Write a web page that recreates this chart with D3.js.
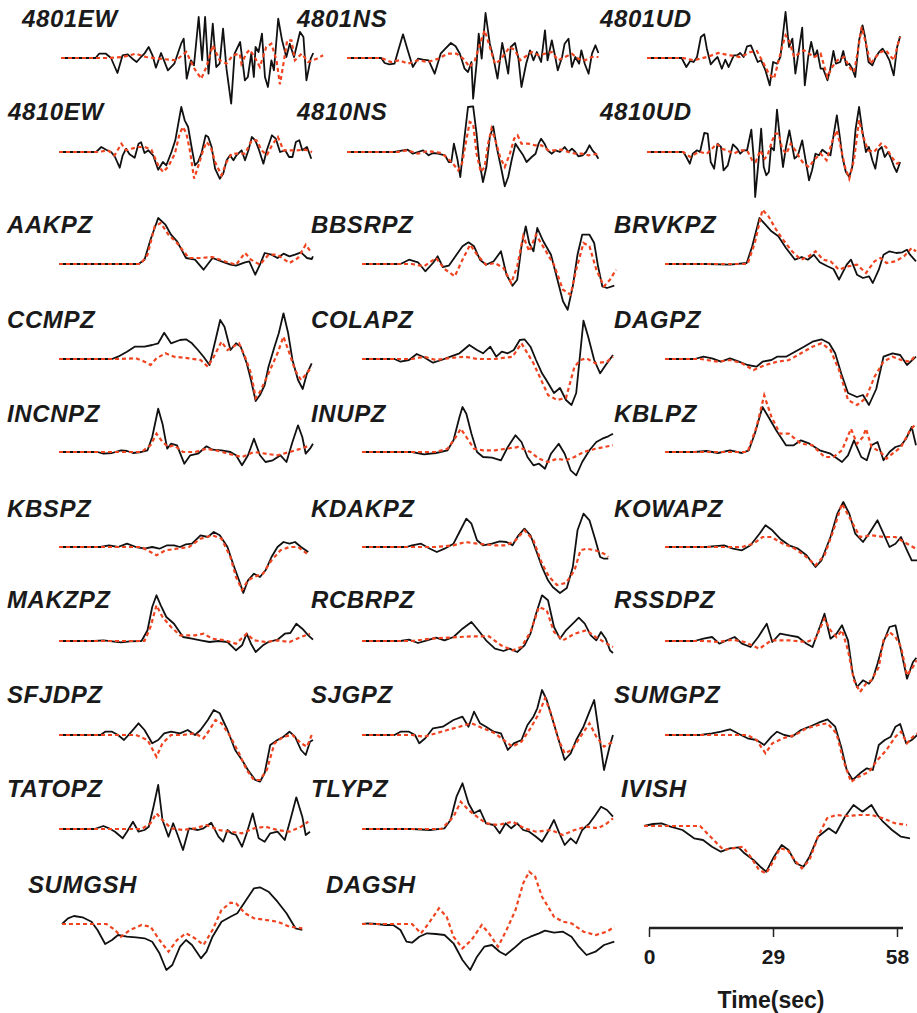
<!DOCTYPE html>
<html>
<head>
<meta charset="utf-8">
<script src="https://cdn.jsdelivr.net/npm/d3@7"></script>
<style>
  body { margin: 0; background: #fff; }
  svg { display: block; }
  .lab { font-family: "Liberation Sans", Arial, sans-serif; font-weight: bold; font-style: italic; font-size: 24px; letter-spacing: 0.6px; fill: #1a1a1a; }
  .axis text { font-family: "Liberation Sans", Arial, sans-serif; font-weight: bold; font-size: 21px; fill: #1a1a1a; }
</style>
</head>
<body>
<div id="chart"></div>
<script>
// waveforms: [time (s), amplitude] pairs, obs = black, syn = red dashed

var obs4801EW = [[0,0],[8.1,0],[8.9,4.3],[10.5,4.3],[11.7,0],[13.2,-15],[14.4,2.7],[15.6,3.7],[16.7,-0.7],[17.7,-4],[18.7,1],[19.5,4.3],[20.5,11],[21.4,2.7],[22.2,-9.7],[23.4,5],[25,-12.3],[26.5,-5.7],[28.1,14.3],[28.7,19.3],[29.4,-20.7],[30.4,-2.3],[31.1,-7.3],[32.2,41],[33,-2.3],[33.7,41],[34.5,-15.7],[35.5,34.3],[36.3,-9],[37.1,-5.7],[37.9,29.3],[38.7,-10.7],[39.8,-45.7],[40.6,4.3],[41.9,16],[43,-22.3],[43.7,-19],[44.5,4.3],[45.1,-19],[45.5,11],[46.2,6],[47,24.3],[47.7,-19],[48.4,-29],[49.2,-2.3],[49.8,-12.3],[50.8,39.3],[51.7,17.7],[52.7,1],[53.5,14.3],[54.5,1],[55.9,26],[56.7,21],[57.4,-22.3],[58.4,-0.7],[59,5]];
var syn4801EW = [[0,0],[11.3,0],[14.4,1],[17.5,4.3],[19.9,1],[23,-0.7],[26.9,-2.3],[29.3,6],[31.2,-10.7],[32.8,-20.7],[34,-9],[35.5,12.7],[37.1,-2.3],[38.7,-5.7],[40.2,2.7],[41.8,4.3],[42.2,-5.7],[43.3,4.3],[44.1,8.3],[45.3,1],[46.5,-9],[48,11],[49.2,14.3],[50.4,-2.3],[51.2,-26.3],[51.9,-9],[52.9,17.7],[53.9,17.7],[54.7,-2.3],[56.3,4.3],[57.8,-4],[59.8,-0.7],[61.3,2.7]];

var obs4801NS = [[0,0],[8,0],[8.8,-5],[9.9,-6.3],[11.1,-5.7],[12,7.7],[13.1,23.7],[14.2,7.7],[15.4,-9],[16.6,-0.7],[17.8,-1.7],[19.1,-2.3],[20.5,-15.7],[21.9,4.3],[23,9.3],[24.3,15],[25.4,11.7],[26.4,4.3],[27.5,-10.7],[28.3,-14],[29.1,-4],[29.5,-40.7],[30.3,-5.7],[30.8,24.3],[31.5,-0.7],[32.4,45],[33.4,14.3],[34.2,1],[35.2,-20.7],[36.3,15],[36.9,2.7],[37.7,-15.7],[38.3,11],[39.3,15],[40.1,-0.7],[40.8,-29],[41.9,-5.7],[42.8,7.7],[43.6,-2.3],[44.4,6],[45.4,-4],[46.3,27.7],[46.9,-2.3],[47.9,17.7],[48.7,1],[49.3,-12.3],[50.3,1],[50.9,14.3],[51.8,19.3],[52.6,-9],[53.4,1],[54.3,-5.7],[54.8,7.7],[55.6,-5.7],[56.5,-15.7],[57.3,4.3],[58.1,12.7],[58.8,5]];
var syn4801NS = [[0,0],[8,0],[10.3,-4],[12.3,-2.3],[14.2,-5.7],[16.6,-2.3],[18.9,-4],[21.3,-0.7],[23.6,4.3],[25.6,4.3],[27.2,-0.7],[28.7,-9],[29.9,-2.3],[31.1,14.3],[32.2,27.7],[33.4,11],[34.6,-5.7],[35.8,-2.3],[36.9,4.3],[38.1,11],[39.3,7.7],[40.5,-2.3],[41.6,1],[43.2,6],[44.8,2.7],[46.3,4.3],[47.9,6],[49.4,-2.3],[51,1],[52.6,4.3],[54.1,-0.7],[55.7,-2.3],[57.3,1],[58.8,1]];

var obs4801UD = [[0,0],[8.1,0],[9.2,-9],[10.1,-3],[10.9,-4],[11.7,1],[12.6,21],[13.4,23.7],[14,9.3],[14.9,-6.3],[15.7,-2.3],[16.5,1],[17.5,-10.7],[18.3,-1.7],[19.1,-9],[20.3,2.7],[21.1,2.7],[21.8,5],[22.6,1],[23.4,11.7],[24.3,12.7],[25.1,4.3],[25.9,-4],[26.7,-2.3],[27.7,-12.3],[28.7,-27.3],[29.5,-4],[30.4,-5.7],[31.2,1],[32.4,46],[33.2,11],[34,19.3],[34.7,-15.7],[35.4,4.3],[36.3,30.3],[36.9,-27.3],[37.7,1],[38.4,16],[39.2,1],[39.8,7.7],[40.6,-10.7],[41.2,-10.7],[42.2,-22.3],[42.8,-12.3],[43.6,7],[44.2,-5.7],[45.2,-4],[45.9,7],[46.6,-7.3],[47.3,-5.7],[48,-10.7],[48.7,-19],[49.6,17.7],[50.4,32.7],[51,21],[51.8,-4],[52.7,-7.3],[53.5,1],[54.3,6],[55.1,9.3],[55.9,4.3],[56.7,-2.3],[57.7,-17.3],[58.5,11],[59.2,21.7]];
var syn4801UD = [[0,0],[8.5,0],[10.9,-2.3],[14,1],[16.7,5],[19.5,2.7],[21.8,1],[24.2,6],[25.7,7],[26.9,-2.3],[28.5,-15.7],[29.7,-20.7],[30.8,-2.3],[31.6,11],[32.4,22.7],[33.2,17.7],[34.4,1],[35.5,4.3],[36.7,7.7],[37.9,4.3],[39.1,1],[40.6,4.3],[42.2,-19],[43.3,-9],[44.5,-2.3],[46.1,1],[47.6,-10.7],[48.4,-14],[49.2,4.3],[50.2,31],[51.2,14.3],[52.3,-5.7],[53.5,1],[54.7,6],[55.9,7.7],[57.1,1],[57.8,-2.3],[58.6,12.7],[59.2,21]];

var obs4810EW = [[0,0],[8.7,0],[9.9,5],[11,2.3],[12.2,0],[13.1,-5],[14.2,-15.7],[14.9,-3.3],[15.7,3.3],[16.5,-2.3],[17.7,-5.7],[18.6,8.3],[19.2,9.7],[20,-1],[20.9,1.7],[22,-3.3],[23.2,-17.7],[24.3,-10],[25.1,-13.3],[26.3,0],[27.2,11.7],[27.9,28.3],[28.6,45],[29.4,31.7],[30.2,25],[31,5],[31.8,-13.3],[32.5,-10],[33.3,-1.7],[34.3,16.7],[34.9,15],[35.7,5],[36.5,-16.7],[37.6,-26.7],[38.4,-21.7],[39.2,-8.3],[40,-3.3],[40.8,-8.3],[41.5,-3.3],[42.7,1.7],[43.5,-8.3],[44.3,1.7],[45.1,15],[45.9,11.7],[46.8,1.7],[47.8,-11.7],[48.6,1.7],[49.8,16.7],[50.7,13.3],[51.7,0],[52.9,1.7],[53.8,-5],[54.6,-5],[55.4,10],[56.2,11.7],[56.9,1.7],[58,5],[59,-6.7]];
var syn4810EW = [[0,0],[9.1,0],[11.4,1.7],[13,-3.3],[14.6,8.3],[15.7,1.7],[16.9,3.3],[18.5,5],[20,5],[21.6,2.3],[23.2,-13.3],[24.3,-20],[25.5,-15],[27.1,-1.7],[28.2,18.3],[29,25],[29.8,18.3],[30.6,1.7],[31.6,-26.7],[32.5,-15],[33.7,1.7],[34.5,10],[35.5,5],[36.5,-10],[38,-23.3],[39.2,-10],[40.4,-1.7],[41.9,-1.7],[43.5,-1.7],[45.1,11.7],[46.2,11.7],[47.4,1.7],[48.6,-3.3],[49.8,6.7],[51.2,15],[52.5,1.7],[54.1,1.7],[55.6,1.7],[57.6,2.3],[59.2,0]];

var obs4810NS = [[0,0],[9.5,0],[11.1,0],[13.1,1.7],[14.2,2.3],[15.4,-1.7],[16.6,0],[17.8,1.7],[19.1,-3.3],[20.1,-1],[21.3,-1.7],[22.9,-3.3],[23.8,-10],[24.4,-10],[25,8.3],[25.8,-6.7],[26.5,-25],[27.4,11.7],[28.3,45],[29.5,45.7],[30.3,18.3],[30.9,-8.3],[31.8,-30],[32.6,-15],[33.4,15],[34.2,25.7],[35,5],[36,-15],[36.9,-34.3],[37.7,-25],[38.5,-8.3],[39.4,8.3],[40.4,1.7],[41.2,-3.3],[42,-10],[43.2,-5],[44.1,-1.7],[44.8,8.3],[45.4,13.3],[46.2,8.3],[46.9,1.7],[47.9,-1.7],[48.8,1.7],[49.8,0],[50.9,5],[51.8,0],[52.6,3.3],[53.4,0],[54.1,-4.3],[55.1,-3.3],[55.9,0],[56.7,6.7],[57.4,1.7],[58.1,-1.7],[58.8,-6.7]];
var syn4810NS = [[0,0],[9.5,0],[11.9,0],[14.2,1.7],[16.6,-1.7],[18.9,1],[22.1,-1],[23.6,-6.7],[24.8,-11.7],[26,-18.3],[26.9,-11.7],[27.9,11.7],[28.7,30],[29.5,28.3],[30.3,-1.7],[31.3,-20],[32.2,-15],[33,8.3],[33.8,23.3],[34.7,11.7],[35.8,-5],[36.9,-15],[38.1,-1.7],[39.1,13.3],[39.9,16.7],[40.8,8.3],[42.4,8.3],[44,6.7],[45.5,6.7],[47.1,1.7],[48.7,1.7],[50.2,2.3],[51.8,0],[53.4,-1.7],[54.9,-1.7],[56.5,-3.3],[58.8,-1.7]];

var obs4810UD = [[0,0],[8.5,0],[9.2,-5],[10,-11.7],[10.7,-1.7],[11.7,1.7],[12.4,0],[13.4,19],[14.2,18.3],[14.9,-10],[15.7,-16.7],[16.5,8.3],[17.3,5],[17.9,-18.3],[18.9,-13.3],[20.1,7.7],[21.1,3.3],[21.8,-1.7],[22.6,1.7],[23.4,1.7],[24.4,22.3],[25,-8.3],[25.3,-45],[26.1,-8.3],[26.7,23.3],[27.3,-15],[27.9,-23.3],[28.5,-20],[29,5],[29.7,1.7],[30.4,42.3],[31.2,8.3],[31.8,-15],[32.5,5],[33.3,21.7],[34,5],[34.5,-6.7],[35.3,-3.3],[36.3,11.7],[37.1,-8.3],[37.9,-28.3],[38.6,-18.3],[39.4,-1.7],[40.2,-3.3],[41,2.3],[42.2,-1.7],[42.9,-3.3],[43.7,18.3],[44.4,36.7],[45.1,15],[45.7,-5],[46.5,-20],[47.3,-25],[48,-15],[48.8,23.3],[49.6,45],[50.4,20],[51.2,0],[51.9,5],[52.7,-8.3],[53.4,-16.7],[54.1,1.7],[54.9,5],[55.6,-5],[56.4,0],[57.1,-6.7],[57.8,-15],[58.4,-20],[59.2,-10]];
var syn4810UD = [[0,0],[8.5,0],[10.1,-5],[11.3,-1.7],[12.4,0],[14,-1.7],[15.2,3.3],[16.3,8.3],[17.5,3.3],[18.7,1.7],[20.3,-1.7],[21.8,1.7],[23.4,1.7],[24.6,-8.3],[25.4,-10],[26.5,1.7],[27.5,-6.7],[28.2,-3.3],[29.3,11.7],[30.1,18.3],[30.8,18.3],[31.6,3.3],[32.6,-1.7],[33.6,8.3],[34.7,1.7],[35.8,-6.7],[36.7,-11.7],[37.9,-15],[39,-8.3],[40.6,-1.7],[42,-8.3],[43.4,11.7],[44.4,21.7],[45.3,5],[46.3,-15],[47.3,-26.7],[48.4,-8.3],[49.6,31.7],[50.6,15],[51.7,1.7],[53.1,0],[54.7,8.3],[55.9,5],[57.2,-5],[58.5,-11.7],[59.2,-10]];

var obsAAKPZ = [[0,0],[18.6,0],[20,4.3],[21.4,24.3],[23.2,46],[24.9,39.3],[26.2,29.3],[27.6,22.7],[29.7,6],[31.8,4.3],[33.8,-5.7],[35.9,6],[38,2.7],[40.1,-0.7],[41.4,-1.7],[43.5,1.7],[44.5,2.7],[45.9,-10.7],[47,-0.7],[48.1,11],[49.7,9.3],[51.1,6],[52.5,10.3],[53.9,7.7],[55.2,9.3],[56.6,11.7],[58,6],[59.1,5],[59.4,7.7]];
var synAAKPZ = [[0,0],[19.1,0],[20.7,9.3],[22.4,37.7],[23.8,41],[25.6,29.3],[27.6,21],[30.4,6],[33.1,6],[35.9,7],[38.7,2.7],[41.4,-0.7],[43.5,11],[44.9,4.3],[47,-0.7],[49,9.3],[51.1,9.3],[53.9,1],[55.9,6],[57.7,19.3],[59.1,11]];

var obsBBSRPZ = [[0,0],[9,0],[11,4.3],[13.1,1.7],[14.8,-7.3],[16.6,1],[17.7,7.7],[18.9,-3],[20.3,-1.7],[22.1,9.3],[23.5,17.7],[24.9,21.7],[26.2,17.7],[27.6,4.3],[29,-0.7],[30.8,2.7],[32.5,12.7],[33.8,-10.7],[35.2,-21.7],[36.3,-15.7],[37.3,17.7],[38.3,37.7],[39.1,21],[40.1,12.7],[41,36],[42.4,22.7],[44.2,9.3],[45.6,-14],[47,-37.3],[48.1,-45.7],[49.3,-22.3],[50.4,9.3],[51.5,29.3],[53.2,29.3],[54.3,21],[55.2,-2.3],[56.2,-22.3],[57.3,-24],[59,-21.7]];
var synBBSRPZ = [[0,0],[11.7,0],[14.5,-2.3],[17.3,6],[19.3,-5],[21.7,-12.3],[23.5,4.3],[25.3,19.3],[26.9,9.3],[29,-0.7],[31.1,1],[33.1,-4],[34.9,-19],[36.3,-2.3],[37.7,27.7],[39.1,12.7],[40.7,29.3],[42.8,14.3],[44.9,-0.7],[47,-25.7],[48.8,-30.7],[50.1,-5.7],[51.8,21],[53.2,17.7],[54.8,-5.7],[56.6,-22.3],[58,-15.7],[59.4,-5.7]];

var obsBRVKPZ = [[0,0],[9.7,0],[15.2,-0.7],[19.1,1],[20.4,17.7],[22.1,46],[23.5,39.3],[24.9,32.7],[26.5,27.7],[28.3,16],[30.4,4.3],[32,7],[33.4,4.3],[34.8,9.3],[36.2,1.7],[38,-2.3],[39.4,-5],[40.7,-15.7],[42.5,-0.7],[43.5,4.3],[44.9,-10.7],[46.3,-14],[47.7,-12.3],[48.6,-19],[50,-5.7],[51.1,9.3],[52.5,12.7],[54.1,11],[55.5,11.7],[56.6,14.3],[57.3,9.3],[58.7,2.7]];
var synBRVKPZ = [[0,0],[19.3,0],[21,21],[22.8,54.3],[24.2,47.7],[26,34.3],[27.6,24.3],[29.7,12.7],[31.8,4.3],[33.8,8.3],[35.2,12.7],[37,4.3],[38.7,2.7],[40.7,-5.7],[42.8,-2.3],[44.9,-0.7],[47,-9],[49,2.7],[50.4,6],[51.8,1],[53.9,2.7],[55.9,7.7],[57.7,16],[58.7,12.7]];

var obsCCMPZ = [[0,0],[12.4,0],[13.8,2.3],[15.9,7.3],[17.7,12.3],[20,12.3],[21.8,14],[23.2,15.7],[24.6,26.3],[26.2,15.7],[28.3,19],[29.7,19.7],[31.1,15.7],[32.5,9],[33.8,2.3],[35.2,-6],[36.6,19],[37.7,39],[38.7,32.3],[40.1,9],[41.4,15.7],[42.5,12.3],[43.9,-4.3],[44.9,-21],[46,-42],[47,-36],[48.1,-26],[49,-7.7],[50.4,12.3],[51.4,25.7],[52.5,45.7],[53.6,25.7],[54.6,-1],[55.9,-21],[57,-30],[58,-14.3],[59.1,-4.3]];
var synCCMPZ = [[0,0],[13.8,0],[18,0.7],[20,-2.7],[21.4,-6],[22.8,0.7],[24.9,5.7],[26.9,2.3],[30.4,0.7],[33.1,-1],[34.8,-7.7],[36.2,2.3],[38,17.3],[39.4,9],[40.7,12.3],[42.1,15.7],[43.5,2.3],[44.9,-14.3],[46,-39],[47,-33],[48.3,-21],[49.7,-7.7],[51.1,5.7],[52.5,22.3],[53.9,5.7],[55.2,-11],[56.6,-21],[58,-14.3],[59.1,-7.7]];

var obsCOLAPZ = [[0,0],[7.6,0],[9,-2.7],[11,-1],[12.8,5],[14.5,1.7],[16.6,-3.7],[18.6,-1],[20.7,2.3],[22.8,5.7],[25.1,14],[26.9,9],[28.3,5.7],[30,12.3],[31.4,2.3],[32.7,7.3],[34.1,5.7],[35.5,9],[36.9,19],[38,19.7],[39.4,12.3],[40.7,-1],[42.1,-14.3],[43.1,-21],[44.9,-34],[46.3,-29],[47.7,-41],[49,-46],[50.1,-34],[51.8,38.3],[52.9,22.3],[54.3,-1],[55.7,-14.3],[57,-6],[58.7,4]];
var synCOLAPZ = [[0,0],[11.7,0],[14.5,2.3],[17.3,-1],[20,0.7],[24.2,2.3],[26.9,0],[31.1,0],[35.2,2.3],[37.3,15.7],[38.7,5.7],[40.1,-4.3],[41.9,-21],[43.5,-36],[45.6,-41],[47.7,-39],[49.7,-7.7],[51.1,-1],[52.5,0.7],[54.6,-4.3],[57.3,-2.7],[58.7,2.3]];

var obsDAGPZ = [[0,0],[6.9,0],[9,2.3],[11,0.7],[13.1,-2.7],[15.2,0.7],[17.3,-2.7],[19.3,-6],[21.4,-7.7],[22.8,-2.7],[24.9,-1],[26.2,2.3],[28.3,2.3],[30.4,7.3],[32.5,12.3],[34.5,17.3],[36.6,19.7],[38.4,15.7],[39.8,5.7],[41.2,-14.3],[42.8,-34],[44.9,-38],[46.3,-36],[47.7,-46],[49.4,-30],[51.1,2.3],[53.2,5.7],[55,4],[56.6,-6],[58.7,2.3]];
var synDAGPZ = [[0,0],[8.3,0],[12.4,-2.7],[15.2,-1],[18,-4.3],[20.7,-11],[23.5,-6],[26.2,-2.7],[29,-1],[31.8,5.7],[34.5,12.3],[36.6,15.7],[38.7,9],[40.7,-11],[42.8,-41],[44.9,-46],[47,-39],[49,-17.7],[51.1,-2.7],[53.2,2.3],[55.2,-1],[57.3,-2.7],[58.7,4]];

var obsINCNPZ = [[0,0],[9,0],[10.4,-1.7],[12.4,-1],[14.5,1.7],[15.9,1],[17.3,-1],[19.3,0],[20.7,1.7],[21.8,15],[23.2,43.3],[24.2,28.3],[25.3,3.3],[26.2,8.3],[27.6,6.7],[29.3,-11.7],[30.7,-3.3],[32.5,-1.7],[34.5,5.7],[35.9,2.3],[38,1.7],[40.1,0],[41.4,-3.3],[42.8,-13.3],[44.2,-3.3],[45.6,13.3],[47,-3.3],[48.3,-10],[50,-8.3],[51.8,-3.3],[53.2,-10],[54.6,10],[55.9,26.7],[56.9,15],[57.7,-1.7],[58.7,3.3],[59.4,8.3]];
var synINCNPZ = [[0,0],[19.3,0],[21.4,6.7],[22.8,18.3],[24.2,10],[25.6,5],[26.9,6.7],[29,0],[31.8,0],[34.5,3.3],[37.3,1],[40.1,-2.3],[42.8,-5],[45.6,0],[48.3,-1.7],[51.1,-3.3],[53.9,0],[56.6,3.3],[58.7,6.7]];

var obsINUPZ = [[0,0],[11.7,0],[14.5,-2.3],[17.3,-1],[20,1.7],[21.4,11.7],[22.8,35],[23.5,45],[24.4,38.3],[25.6,18.3],[26.9,0],[28.3,-5],[30.4,-5.7],[32.5,-8.3],[34.1,5],[35.9,16.7],[37.3,10],[38.7,-5],[40.1,-13.3],[41.4,-11.7],[42.8,-16.7],[44.2,-1.7],[46,8.3],[47.4,-1.7],[48.8,-18.3],[50.1,-23.3],[51.5,-10],[53.2,1.7],[54.8,10],[56.2,13.3],[57.6,15.7],[58.7,18.3]];
var synINUPZ = [[0,0],[17.3,0],[20,3.3],[21.7,13.3],[23.1,23.3],[24.4,15],[26.2,3.3],[28.3,1.7],[31.1,1.7],[33.8,3.3],[36.6,5],[39.4,0],[41.4,-6.7],[43.5,-10],[45.6,-6.7],[47.7,-8.3],[49.7,-5],[51.8,0],[54.6,3.3],[58.7,6.7]];

var obsKBLPZ = [[0,0],[6.9,0],[9.7,1],[12.4,-1],[15.2,1.7],[18,-1],[19.6,1.7],[21,18.3],[22.8,45],[24.2,35],[26,21.7],[28.3,6.7],[30.1,6.7],[31.8,11.7],[33.8,8.3],[36.2,1.7],[38.7,-1.7],[41.4,-10],[42.8,-3.3],[44.2,11.7],[45.9,-5],[47.2,-8.3],[48.3,6.7],[49.7,10],[51.1,-8.3],[52.5,0],[53.9,5],[55.2,6.7],[56.4,13.3],[57.7,25],[58.7,6.7]];
var synKBLPZ = [[0,0],[19.3,0],[21.4,25],[23.2,56.7],[24.9,35],[26.9,18.3],[29,18.3],[31.8,8.3],[34.5,6.7],[37.3,-5],[39.4,-5],[41.4,1.7],[43.5,23.3],[44.9,8.3],[46.3,15],[47,23.3],[48.3,5],[50.4,0],[51.8,-6.7],[53.2,-1.7],[55.2,5],[57.3,21.7],[58.7,28.3]];

var obsKBSPZ = [[0,0],[9.7,0],[11.7,1.7],[13.8,0],[15.9,3.3],[18,0],[20,-1.7],[21.8,0],[23.5,-1.7],[25.3,1.7],[26.9,1.7],[28.3,0],[29.7,2.7],[31.1,3.3],[33.1,11.7],[34.8,10],[36.2,15],[37.6,11.7],[39.4,0],[40.7,-16.7],[42.1,-33.3],[43.1,-46],[44.2,-33.3],[45.6,-26.7],[47,-30],[48.3,-23.3],[49.7,-10],[51.1,0],[52.5,5],[53.9,3.3],[55.2,5],[56.6,0],[58.3,-5]];
var synKBSPZ = [[0,0],[19.3,0],[21.4,-5],[22.8,-8.3],[24.9,-3.3],[27.6,-1.7],[30.4,0],[33.1,8.3],[35.9,11.7],[38,8.3],[40.1,-10],[41.4,-30],[42.8,-43],[44.2,-33.3],[45.6,-30],[47.7,-26.7],[49.7,-13.3],[51.8,-3.3],[53.9,0],[55.9,0],[58,-6.7]];

var obsKDAKPZ = [[0,0],[10.4,0],[11.7,1.7],[13.8,3.3],[15.9,-1.7],[17.5,-5],[19.3,-1.7],[21.4,3.3],[22.8,15],[24.4,28.3],[25.6,23.3],[26.9,6.7],[28.3,1.7],[30.4,3.3],[32.2,5.7],[33.8,5],[35.2,1.7],[36.6,11.7],[38,18.3],[39.4,11.7],[40.7,-3.3],[42.1,-20],[43.5,-33.3],[44.6,-40],[46.3,-46],[47.9,-41],[49.3,-20],[50.4,16.7],[51.8,33.3],[53.2,26.7],[54.6,6.7],[55.7,-10],[56.6,-11.7],[57.6,-11.7]];
var synKDAKPZ = [[0,0],[17.3,0],[21.4,1.7],[24.2,5],[26.9,3.3],[31.1,1.7],[33.8,1.7],[35.9,6.7],[38,16.7],[40.1,6.7],[42.1,-16.7],[43.8,-30],[45.6,-38],[47.7,-36],[49.7,-23.3],[51.1,-3.3],[52.5,-1.7],[54.6,-3.3],[56.6,-6.7],[57.6,-10]];

var obsKOWAPZ = [[0,0],[9.7,0],[13.8,1.7],[15.9,-1.7],[18,-3.3],[20,1.7],[22.1,13.3],[23.5,21.7],[25.1,16.7],[26.9,8.3],[29,1.7],[31.1,-1.7],[33.1,-8.3],[35.2,-20],[36.6,-13.3],[38.7,10],[40.3,33.3],[41.7,45],[43.1,33.3],[44.5,13.3],[46.3,5],[47.7,13.3],[49.7,26.7],[51.1,13.3],[52.5,0],[53.9,3.3],[55.2,10],[56.6,-3.3],[57.7,-13.3],[59,-13.3]];
var synKOWAPZ = [[0,0],[18,0],[20.7,3.3],[22.8,10],[24.9,10],[27.6,3.3],[30.4,-1.7],[33.1,-10],[35.2,-18.3],[37.3,-8.3],[39.4,16.7],[41.4,43.3],[43.5,26.7],[45.6,10],[48.3,11.7],[51.1,10],[53.9,10],[56.6,3.3],[58.7,-1.7]];

var obsMAKZPZ = [[0,0],[8.3,0],[10.4,0.7],[12.4,-0.3],[14.5,-1.3],[16.6,-0.3],[19.3,0],[20.7,10.7],[21.8,34],[22.8,45.7],[23.8,35.7],[25.1,24],[26.9,17.3],[29,4],[31.1,2.3],[33.1,0.7],[35.2,-1],[37.3,0],[39.4,-1],[41.4,-9.3],[42.8,-4.3],[43.9,7.3],[44.9,-2.7],[46,-11],[47.7,-4.3],[49,-1],[51.1,1.3],[52.8,7.3],[54.1,8],[55.5,17.3],[56.9,12.3],[58.3,5.7],[59.4,1.3]];
var synMAKZPZ = [[0,0],[20,0],[21.4,14],[22.8,35.7],[24.2,24],[26.2,14],[28.3,5.7],[31.8,5.7],[33.8,7.3],[35.9,2.3],[38.7,0.7],[41.4,-2.7],[43.9,7.3],[45.6,0.7],[48.3,-1],[51.1,0.7],[53.9,-1],[56.6,4],[58.7,7.3]];

var obsRCBRPZ = [[0,0],[9,0],[11,1.3],[13.1,-2],[15.2,0.7],[17.3,3.3],[19.3,0.7],[21.4,4],[23.5,12.3],[25.6,19],[27.2,10.7],[29,0.7],[31.1,-7.7],[33.1,-10],[34.5,-7.7],[36.3,-11],[38,-4.3],[39.4,7.3],[40.7,27.3],[42.1,45.7],[43.5,40.7],[44.9,14],[46.3,2.3],[47.7,10.7],[49.3,17.3],[50.7,23.3],[52.1,17.3],[53.5,5.7],[54.8,0.7],[55.9,9],[57,2.3],[58,-9.3],[58.7,-12]];
var synRCBRPZ = [[0,0],[11.7,0],[15.9,2.3],[20,3.3],[25.6,4.7],[29.7,4.7],[32.5,-4.3],[35.2,-9.3],[37.3,-6],[39.4,9],[41.4,34],[43.2,30.7],[44.9,9],[47,0.7],[49.7,7.3],[52.5,10.7],[54.6,4],[57.3,-2.7],[58.7,-6]];

var obsRSSDPZ = [[0,0],[6.9,0],[9,2.3],[11,4],[12.7,-2.7],[14.5,0.7],[16.3,4],[18,-2.7],[20,-6],[21.8,4],[23.8,17.3],[25.1,-1],[26.9,7.3],[29,5.7],[31.1,4],[33.1,-2.7],[34.5,-6],[36.2,14],[37.3,27.3],[38.7,2.3],[40.1,7.3],[41.4,15.7],[42.8,0.7],[43.9,-32.7],[44.9,-46],[46.3,-39.3],[47.7,-42.7],[48.6,-37.7],[49.7,-22.7],[51.1,-1],[52.5,14],[53.9,15.7],[55.2,-9.3],[56.6,-37.7],[58,-21],[58.8,-16.7]];
var synRSSDPZ = [[0,0],[9.7,0],[12.4,-1],[15.9,1.3],[18.6,-1],[22.1,-7.7],[24.9,0.7],[29,0.7],[33.1,-1],[35.2,2.3],[37.3,22.3],[38.7,10.7],[40.1,4],[41.4,10.7],[42.8,-9.3],[44.2,-39.3],[45.6,-51],[47,-42.7],[48.3,-39.3],[50,-26],[51.1,0.7],[52.5,9],[53.9,4],[55.2,-6],[56.6,-34.3],[58,-26],[58.8,-19.3]];

var obsSFJDPZ = [[0,0],[9.7,0],[10.8,3.3],[12.4,3.3],[13.8,0],[15.2,-5],[16.6,1.7],[18.6,11.7],[20,5],[21.8,-8.3],[23.2,-5],[24.6,1.7],[26.2,3.3],[28.3,1.7],[30.1,5],[31.8,0],[33.1,5],[34.8,15],[36.2,25],[37.6,21.7],[39.4,5],[41.2,-15],[42.8,-25],[44.2,-35],[45.9,-45],[47,-46.7],[48.1,-38],[49.4,-10],[51.1,-5],[52.5,-1.7],[53.9,3.3],[55.2,-1.7],[56.6,-15],[57.7,-20],[58.7,-6.7],[59.4,-5]];
var synSFJDPZ = [[0,0],[18,0],[20.7,-5],[22.8,-21.7],[24.2,-8.3],[26.2,0],[29,0],[31.8,1.7],[33.8,-3.3],[35.2,5],[36.6,15],[38,11.7],[40.1,-1.7],[42.1,-18.3],[43.9,-35],[45.6,-45],[47,-45],[48.6,-35],[50.4,-8.3],[52.5,-1.7],[54.6,0],[56.6,-8.3],[58,-11.7],[59.1,0]];

var obsSJGPZ = [[0,0],[7.6,0],[9,3.3],[11,3.3],[12.4,0],[13.4,-8.3],[14.8,-3.3],[16.6,6.7],[18.9,8.3],[21.4,15],[23.5,18.3],[24.9,8.3],[26.2,23.3],[27.6,11.7],[29,8.3],[30.8,3.3],[32.5,1.7],[34.1,-15],[35.5,-8.3],[37.3,-5],[38.7,10],[40.1,18.3],[41,26.7],[42.1,45],[43.2,35],[44.6,15],[46,-5],[47.4,-25],[48.8,-18.3],[50.1,-5],[51.8,8.3],[53.2,23.3],[54.3,35],[55.2,8.3],[56.6,-35],[58,-10],[58.7,0]];
var synSJGPZ = [[0,0],[11.7,0],[14.5,-1.7],[17.3,1.7],[20,5],[22.8,8.3],[25.6,11.7],[28.3,6.7],[31.1,1.7],[33.1,-5],[35.2,-11.7],[37.3,-6.7],[39.4,6.7],[41.4,21.7],[42.8,36.7],[44.2,21.7],[46,-5],[47.4,-18.3],[49,-15],[51.1,-1.7],[53.2,11.7],[54.8,-1.7],[56.6,-11.7],[58.7,-6.7]];

var obsSUMGPZ = [[0,0],[8.3,0],[11,1.7],[13.1,3.3],[15.2,5.7],[17.3,1],[19.3,-3.3],[21.4,-5],[23.2,-10],[24.9,-1.7],[26.2,3.3],[27.9,0],[29.7,-1.7],[31.8,5],[33.8,8.3],[35.9,12.3],[38,15.7],[39.8,8.3],[41.2,-11.7],[42.5,-35],[43.9,-45],[45.6,-38.3],[47.2,-33.3],[48.6,-35],[50,-10],[51.4,-5],[52.8,-1.7],[53.9,8.3],[55,11],[56.4,-8.3],[57.7,-5],[59,0]];
var synSUMGPZ = [[0,0],[19.3,0],[21.4,-5],[23.5,-18.3],[25.1,-8.3],[27.6,-3.3],[30.4,0],[33.1,6.7],[35.9,10],[38,11.7],[40.1,1.7],[41.7,-25],[43.5,-47],[45.3,-41.7],[47.7,-36.7],[49.7,-25],[51.8,-15],[53.9,-1.7],[55.2,3.3],[56.6,-8.3],[58,-1.7],[59,1.7]];

var obsTATOPZ = [[0,0],[8.3,0],[10.4,3],[11.7,0.7],[13.1,-2.7],[14.9,-9.3],[15.9,-2.7],[17.3,7.3],[18.6,-2.7],[20,-1],[21,2.3],[22.1,22.3],[23.2,44],[24.2,9],[25.6,-7.7],[26.7,5.7],[27.6,-4.3],[29,-21],[30.4,0.7],[32.5,-1],[33.8,0.7],[35.6,6.3],[37.3,-7.7],[38.4,-12.7],[39.4,-1],[40.3,-4.3],[41.4,-6],[42.8,-17.7],[43.9,-4.3],[45.3,15.7],[46.7,-9.3],[48.1,-12.7],[49.4,-4.3],[51.1,-2.7],[52.8,-11],[54.1,9],[55.5,31.7],[56.9,12.3],[57.7,-6],[58.7,-2.7]];
var synTATOPZ = [[0,0],[19.3,0],[21.4,5.7],[22.8,15.7],[24.2,9],[26.2,0.7],[29,-1],[31.8,0.7],[34.5,4],[37.3,-1],[40.1,-2.7],[42.8,-4.3],[45.6,0.7],[48.3,2.3],[51.1,-1],[53.9,-2.7],[56.6,2.3],[58.3,7.3]];

var obsTLYPZ = [[0,0],[11.7,0],[15.9,-1],[19.3,0.7],[20.7,9],[22.1,32.3],[23.5,45.7],[24.9,25.7],[26.2,15.7],[27.6,19],[29,5.7],[30.8,4],[32.2,-4.3],[33.6,5.7],[34.9,0.7],[36.3,5.7],[37.7,-1],[39.1,-2.7],[40.7,-7.7],[42.1,-12.7],[43.5,-2.7],[44.9,9],[46,-2.7],[47.4,-16],[48.8,-9.3],[50.1,-14.3],[51.5,-1],[53.2,5.7],[54.6,14],[55.9,22.3],[57.3,19],[58.7,12.3]];
var synTLYPZ = [[0,0],[18.6,0],[21.4,12.3],[23.1,27.3],[24.9,19],[26.9,12.3],[29,5.7],[31.8,4],[35.2,7.3],[38,0.7],[40.7,-2.7],[44.2,-1],[47,-6],[49.7,-1],[52.5,2.3],[55.2,0.7],[57.3,5.7],[58.7,10.7]];

var obsIVISH = [[0,0],[2.1,2],[4.1,2.7],[6.2,-0.7],[9,-4],[11.7,-12.3],[13.8,-14],[15.9,-20.7],[18,-25.7],[20,-22.3],[22.1,-21.3],[23.5,-27.3],[25.6,-34],[27.2,-40.7],[28.6,-45.7],[30.4,-30.7],[32.2,-19],[33.8,-24],[35.5,-37.3],[37.3,-40.7],[38.7,-30.7],[40.7,-10.7],[43.2,-2.3],[44.9,-7.3],[47,9.3],[49,21],[51.1,14.3],[53.2,21],[54.6,11],[55.9,4.3],[58,-4],[60.1,-10.7],[62.2,-12.3]];
var synIVISH = [[0,0],[13.1,0],[15.9,-12.3],[18.6,-24],[20.7,-22.3],[23.1,-20.7],[24.9,-30.7],[26.9,-44],[28.6,-47.3],[30,-37.3],[31.8,-22.3],[33.6,-24],[35.2,-34],[36.9,-42.3],[38.7,-34],[40.7,-10.7],[42.8,7.7],[44.9,11],[47.7,10],[50.4,11],[53.2,11],[55.9,7.7],[58.7,2.7],[61.5,1]];

var obsSUMGSH = [[0,0],[1.4,5.7],[2.8,8],[4.8,6.7],[6.9,2.3],[8.3,-6],[10.1,-20],[11.7,-16],[13.1,-11],[15.2,-12.7],[17.3,-13.3],[19.3,-14.3],[21.1,-17.7],[22.8,-29.3],[24.4,-46],[25.8,-41],[27.6,-22.7],[29,-16],[30.4,-21],[32.5,-34.3],[33.8,-27.7],[35.2,-12.7],[37.3,2.3],[39.4,7.3],[41,10.7],[42.8,22.3],[44.9,35.7],[46.3,36.7],[48.3,32.3],[50.4,22.3],[52.5,10.7],[54.6,-4.3],[56.2,-6]];
var synSUMGSH = [[0,0],[10.4,0],[12.4,-6],[13.8,-12.7],[15.9,-6],[18.6,-1],[20.7,-2.7],[22.8,-16],[24.9,-27.7],[26.9,-16],[29,-9.3],[31.1,-14.3],[33.1,-21],[35.2,-6],[37.3,14],[39.4,21.3],[40.7,20.7],[42.8,10.7],[44.9,5.7],[47.7,4],[50.4,2.3],[53.2,-2.7],[56.2,-4.3]];

var obsDAGSH = [[0,0],[1.4,0.7],[3.5,0],[5.5,-1],[7.3,-1],[9,-6],[10.4,-17.7],[11.7,-18.7],[13.4,-12.7],[15.2,-9.3],[17.3,-10],[19.3,-11],[21.4,-19.3],[23.5,-36],[25.3,-46],[26.9,-32.7],[28.6,-22.7],[30.4,-21],[32.2,-27.7],[33.6,-31],[35.5,-24.3],[37.7,-16],[39.4,-12.7],[41.4,-9.3],[42.8,-6.7],[44.9,-8.7],[47,-7.7],[49,-12.7],[50.7,-22.7],[52.5,-31],[54.6,-27.7],[56.6,-21],[59,-17.7]];
var synDAGSH = [[0,0],[11.7,0],[13.8,-9.3],[15.6,0.7],[18,15.7],[19.8,7.3],[21.4,-12.7],[23.5,-24.3],[25.6,-16],[28,-1],[29.7,-9.3],[31.8,-22.7],[33.8,-6],[35.9,14],[37.7,40.7],[39.1,52.3],[40.5,47.3],[42.1,27.3],[44.9,7.3],[47,2.3],[49,0.7],[51.8,-7.7],[54.6,-11],[57.3,-7.7],[59,-2.7]];

var axisTicks = [0, 29, 58];
var axisTitle = 'Time(sec)';

// layout
var W = 917, H = 1013;
var labelY = [27, 120, 233, 328, 422, 517, 608, 703, 797, 893];
var baseY  = [58, 152, 264, 359, 452, 547, 641, 735, 829, 924];
var labelX = [[22, 297, 600], [8, 297, 600], [7, 311, 614], [28, 326]];
var traceX = [[61, 347, 647], [59, 347, 647], [59, 362, 665], [62, 362]];
function grp(r) { return r < 2 ? r : (r < 9 ? 2 : 3); }

var panels = [
  {name: '4801EW', r: 0, c: 0, obs: obs4801EW, syn: syn4801EW},
  {name: '4801NS', r: 0, c: 1, obs: obs4801NS, syn: syn4801NS},
  {name: '4801UD', r: 0, c: 2, obs: obs4801UD, syn: syn4801UD},
  {name: '4810EW', r: 1, c: 0, obs: obs4810EW, syn: syn4810EW},
  {name: '4810NS', r: 1, c: 1, obs: obs4810NS, syn: syn4810NS},
  {name: '4810UD', r: 1, c: 2, obs: obs4810UD, syn: syn4810UD},
  {name: 'AAKPZ', r: 2, c: 0, obs: obsAAKPZ, syn: synAAKPZ},
  {name: 'BBSRPZ', r: 2, c: 1, obs: obsBBSRPZ, syn: synBBSRPZ},
  {name: 'BRVKPZ', r: 2, c: 2, obs: obsBRVKPZ, syn: synBRVKPZ},
  {name: 'CCMPZ', r: 3, c: 0, obs: obsCCMPZ, syn: synCCMPZ},
  {name: 'COLAPZ', r: 3, c: 1, obs: obsCOLAPZ, syn: synCOLAPZ},
  {name: 'DAGPZ', r: 3, c: 2, obs: obsDAGPZ, syn: synDAGPZ},
  {name: 'INCNPZ', r: 4, c: 0, obs: obsINCNPZ, syn: synINCNPZ},
  {name: 'INUPZ', r: 4, c: 1, obs: obsINUPZ, syn: synINUPZ},
  {name: 'KBLPZ', r: 4, c: 2, obs: obsKBLPZ, syn: synKBLPZ},
  {name: 'KBSPZ', r: 5, c: 0, obs: obsKBSPZ, syn: synKBSPZ},
  {name: 'KDAKPZ', r: 5, c: 1, obs: obsKDAKPZ, syn: synKDAKPZ},
  {name: 'KOWAPZ', r: 5, c: 2, obs: obsKOWAPZ, syn: synKOWAPZ},
  {name: 'MAKZPZ', r: 6, c: 0, obs: obsMAKZPZ, syn: synMAKZPZ},
  {name: 'RCBRPZ', r: 6, c: 1, obs: obsRCBRPZ, syn: synRCBRPZ},
  {name: 'RSSDPZ', r: 6, c: 2, obs: obsRSSDPZ, syn: synRSSDPZ},
  {name: 'SFJDPZ', r: 7, c: 0, obs: obsSFJDPZ, syn: synSFJDPZ},
  {name: 'SJGPZ', r: 7, c: 1, obs: obsSJGPZ, syn: synSJGPZ},
  {name: 'SUMGPZ', r: 7, c: 2, obs: obsSUMGPZ, syn: synSUMGPZ},
  {name: 'TATOPZ', r: 8, c: 0, obs: obsTATOPZ, syn: synTATOPZ},
  {name: 'TLYPZ', r: 8, c: 1, obs: obsTLYPZ, syn: synTLYPZ},
  {name: 'IVISH', r: 8, c: 2, obs: obsIVISH, syn: synIVISH, lx: 621, tx: 644, by: 826},
  {name: 'SUMGSH', r: 9, c: 0, obs: obsSUMGSH, syn: synSUMGSH},
  {name: 'DAGSH', r: 9, c: 1, obs: obsDAGSH, syn: synDAGSH}
];

var svg = d3.select('#chart').append('svg')
  .attr('width', W)
  .attr('height', H);

// shared time scale (also used by the axis), amplitude 1:1 in px
var x = d3.scaleLinear().domain([0, 58]).range([0, 248]);
var y = d3.scaleLinear().domain([-60, 60]).range([60, -60]);

var line = d3.line()
  .x(function(d) { return x(d[0]); })
  .y(function(d) { return y(d[1]); })
  .curve(d3.curveLinear);

panels.forEach(function(p) {
  var g = grp(p.r);
  var lx = p.lx != null ? p.lx : labelX[g][p.c];
  var tx = p.tx != null ? p.tx : traceX[g][p.c];
  var by = p.by != null ? p.by : baseY[p.r];

  svg.append('text')
    .attr('class', 'lab')
    .attr('x', lx)
    .attr('y', labelY[p.r])
    .text(p.name);

  var pg = svg.append('g').attr('transform', 'translate(' + tx + ',' + by + ')');

  pg.append('path')
    .datum(p.obs)
    .attr('d', line)
    .attr('fill', 'none')
    .attr('stroke', '#111')
    .attr('stroke-width', 1.8)
    .attr('stroke-linejoin', 'round');

  pg.append('path')
    .datum(p.syn)
    .attr('d', line)
    .attr('fill', 'none')
    .attr('stroke', '#f04420')
    .attr('stroke-width', 2.2)
    .attr('stroke-dasharray', '4,3');
});

// time axis
var xa = d3.scaleLinear().domain([0, 58]).range([649, 897]);
var axis = svg.append('g')
  .attr('class', 'axis')
  .attr('transform', 'translate(0,928)')
  .call(d3.axisBottom(xa).tickValues(axisTicks).tickSize(9).tickSizeOuter(0).tickPadding(12));
axis.select('.domain')
  .attr('stroke', '#222')
  .attr('stroke-width', 2.6)
  .attr('d', 'M' + xa.range()[0] + ',0H' + (xa.range()[1] + 6));
axis.selectAll('.tick line').attr('stroke', '#222').attr('stroke-width', 1.5);

svg.append('text')
  .attr('x', 771)
  .attr('y', 1008)
  .attr('text-anchor', 'middle')
  .style('font-family', '"Liberation Sans", Arial, sans-serif')
  .style('font-weight', 'bold')
  .style('font-size', '23px')
  .style('fill', '#1a1a1a')
  .text(axisTitle);
</script>
</body>
</html>
